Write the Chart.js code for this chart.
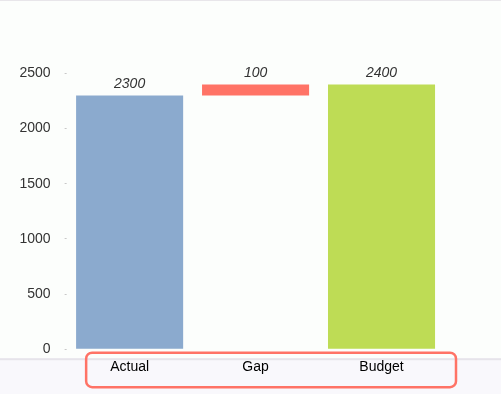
<!DOCTYPE html>
<html>
<head>
<meta charset="utf-8">
<script src="https://cdn.jsdelivr.net/npm/chart.js"></script>
<style>
  html, body { margin: 0; padding: 0; background: #fcfefc; }
  #wrap { width: 501px; height: 394px; }
</style>
</head>
<body>
<div id="wrap"><canvas id="c" width="501" height="394"></canvas></div>
<script>
// 데이터
const categories = ['Actual', 'Gap', 'Budget'];
const barStarts = [0, 2300, 0];
const barEnds = [2300, 2400, 2400];
const valueLabels = ['2300', '100', '2400'];
const barColors = ['#8baace', '#ff7366', '#bedc55'];
const yTicks = [0, 500, 1000, 1500, 2000, 2500];

const FONT = '"Liberation Sans", Arial, sans-serif';

// 배경, 하단 영역, 빨간 상자
const decorPlugin = {
  id: 'decor',
  beforeDraw(chart) {
    const { ctx, chartArea, width, height } = chart;
    ctx.save();
    ctx.fillStyle = '#fcfefc';
    ctx.fillRect(0, 0, width, height);
    ctx.fillStyle = '#e8e6ea';
    ctx.fillRect(0, 0, width, 1);
    const bandTop = chartArea.bottom + 9;
    ctx.fillStyle = '#f9f8fc';
    ctx.fillRect(0, bandTop, width, height - bandTop);
    ctx.fillStyle = '#e6e4ea';
    ctx.fillRect(0, bandTop, width, 2);
    ctx.restore();
  },
  afterDraw(chart) {
    const { ctx, chartArea } = chart;
    ctx.save();
    ctx.strokeStyle = '#ff7366';
    ctx.lineWidth = 2.5;
    ctx.beginPath();
    const x0 = chartArea.left + 19.5;
    const x1 = chartArea.right + 11.5;
    const y0 = chartArea.bottom + 3.5;
    const y1 = chartArea.bottom + 38;
    ctx.roundRect(x0, y0, x1 - x0, y1 - y0, 6);
    ctx.stroke();
    ctx.restore();
  }
};

// 막대 위 값 표시
const valueLabelPlugin = {
  id: 'valueLabels',
  afterDatasetsDraw(chart) {
    const { ctx } = chart;
    const meta = chart.getDatasetMeta(0);
    ctx.save();
    ctx.font = 'italic 14px ' + FONT;
    ctx.fillStyle = '#333333';
    ctx.textAlign = 'center';
    ctx.textBaseline = 'alphabetic';
    meta.data.forEach((bar, i) => {
      const top = Math.min(bar.y, bar.base);
      ctx.fillText(valueLabels[i], bar.x, top - 7.5);
    });
    ctx.restore();
  }
};

new Chart(document.getElementById('c'), {
  type: 'bar',
  data: {
    labels: categories,
    datasets: [{
      data: barStarts.map((s, i) => [s, barEnds[i]]),
      backgroundColor: barColors,
      borderWidth: 0,
      barPercentage: 0.85,
      categoryPercentage: 1
    }]
  },
  options: {
    responsive: false,
    animation: false,
    layout: { padding: { top: 73.5, left: 8.5, right: 56.5, bottom: 8 } },
    plugins: {
      legend: { display: false },
      tooltip: { enabled: false }
    },
    scales: {
      x: {
        grid: { display: false, drawTicks: false },
        border: { display: false },
        ticks: {
          color: '#000000',
          font: { family: FONT, size: 14 },
          padding: 10
        }
      },
      y: {
        min: 0,
        max: 2500,
        afterBuildTicks(axis) {
          axis.ticks = yTicks.map(v => ({ value: v }));
        },
        border: { display: false },
        grid: {
          drawOnChartArea: false,
          drawTicks: true,
          tickLength: 5,
          tickColor: '#c8c8c8',
          tickBorderDash: [2, 3],
          tickBorderDashOffset: 2
        },
        ticks: {
          color: '#333333',
          font: { family: FONT, size: 14 },
          padding: 11,
          callback: v => String(v)
        }
      }
    }
  },
  plugins: [decorPlugin, valueLabelPlugin]
});
</script>
</body>
</html>
